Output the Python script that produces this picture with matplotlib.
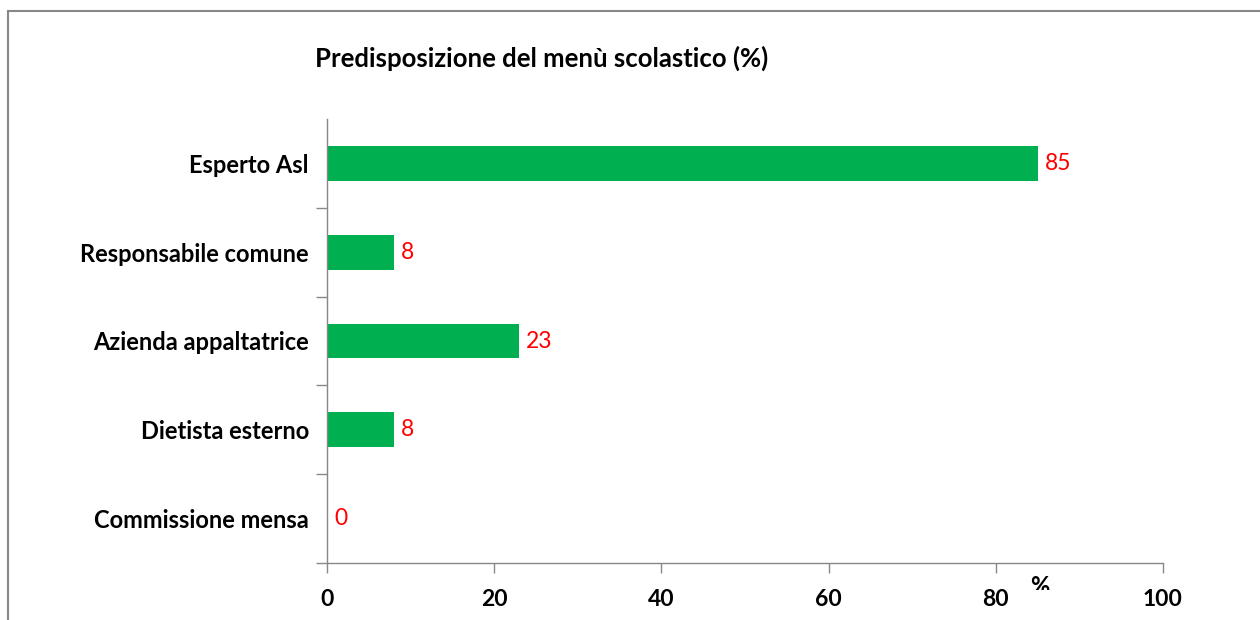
import matplotlib.pyplot as plt
from matplotlib.patches import Rectangle
from matplotlib.ticker import FixedLocator

categories = ["Esperto Asl", "Responsabile comune", "Azienda appaltatrice",
              "Dietista esterno", "Commissione mensa"]
values = [85, 8, 23, 8, 0]
xticks = [0, 20, 40, 60, 80, 100]

plt.rcParams['font.family'] = ['Lato', 'DejaVu Sans']

fig = plt.figure(figsize=(12.6, 6.2), dpi=100)
ax = fig.add_axes([0.2595, 0.092, 0.6635, 0.716])

pos = list(range(len(categories)))[::-1]
ax.barh(pos, values, height=0.39, color='#00B050')
for p, v in zip(pos, values):
    ax.text(v + 0.85, p, str(v), color='red', fontsize=16.5, va='center', ha='left')

ax.set_xlim(0, 100)
ax.set_ylim(-0.5, len(categories) - 0.5)
ax.set_xticks(xticks)
ax.set_xticklabels([str(t) for t in xticks], fontsize=16.5, fontweight='bold')
ax.set_yticks(pos)
ax.set_yticklabels(categories, fontsize=17, fontweight='bold')
ax.tick_params(axis='y', which='major', length=0, pad=13)
ax.yaxis.set_minor_locator(FixedLocator([p - 0.5 for p in range(len(categories))]))
ax.tick_params(axis='y', which='minor', length=8, color='#888888', width=1)
ax.tick_params(axis='x', length=7, color='#888888', width=1, pad=12)

for s in ['top', 'right']:
    ax.spines[s].set_visible(False)
for s in ['left', 'bottom']:
    ax.spines[s].set_color('#888888')
    ax.spines[s].set_linewidth(1)

pct = ax.annotate('%', xy=(85.3, -0.5), xycoords='data', xytext=(0, -9),
                  textcoords='offset points', ha='center', va='top',
                  fontsize=17, fontweight='bold')
pct.set_clip_path(Rectangle((0, 30 / 620), 1, 1, transform=fig.transFigure))

fig.text(0.4296, 0.906, 'Predisposizione del menù scolastico (%)', ha='center',
         va='center', fontsize=18.5, fontweight='bold')

# outer frame (left and top only visible)
fig.patches.append(Rectangle((8 / 1260, -0.1), 1.2, 1.1 - 11 / 620,
                             transform=fig.transFigure, fill=False,
                             edgecolor='#888888', linewidth=1.5))

fig.savefig('out.png', dpi=100)
